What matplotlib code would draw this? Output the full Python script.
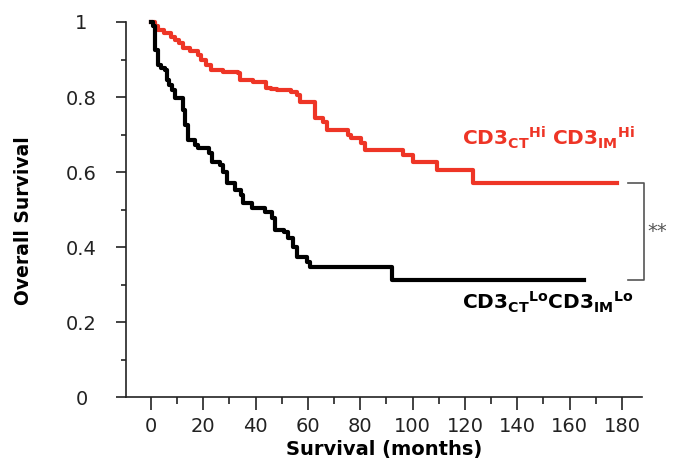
import matplotlib
matplotlib.use("Agg")
import matplotlib.pyplot as plt
from matplotlib.ticker import MultipleLocator

# date (luni, supravietuire)
hi_time = [0, 1.5, 2.7, 5.0, 7.6, 9.2, 10.8, 12.2, 15.0, 17.9, 19.1, 21.0, 22.9, 27.5,
           33.2, 34.0, 38.9, 43.9, 46.0, 48.1, 53.5, 55.8, 56.9, 62.7, 65.7, 67.2,
           75.3, 76.4, 80.2, 81.8, 96.3, 100.1, 109.3, 123.0, 178.0]
hi_surv = [1.0, 0.99, 0.978, 0.97, 0.961, 0.951, 0.943, 0.930, 0.922, 0.912, 0.898,
           0.885, 0.872, 0.868, 0.863, 0.846, 0.841, 0.823, 0.821, 0.819, 0.814, 0.806,
           0.788, 0.744, 0.734, 0.712, 0.699, 0.691, 0.677, 0.659, 0.646, 0.628, 0.606,
           0.572, 0.572]

lo_time = [0, 0.8, 1.5, 2.7, 4.0, 5.3, 6.1, 7.0, 8.0, 9.2, 12.2, 13.0, 14.1, 16.8,
           17.9, 22.2, 23.3, 26.4, 27.5, 29.0, 32.1, 34.4, 35.2, 38.6, 43.6, 46.2,
           47.4, 50.8, 52.3, 54.2, 55.8, 59.6, 60.8, 92.0, 165.4]
lo_surv = [1.0, 0.99, 0.925, 0.885, 0.878, 0.872, 0.845, 0.832, 0.819, 0.798, 0.766,
           0.726, 0.686, 0.672, 0.664, 0.651, 0.627, 0.619, 0.600, 0.571, 0.552, 0.539,
           0.518, 0.504, 0.495, 0.478, 0.446, 0.440, 0.424, 0.400, 0.374, 0.361, 0.347,
           0.312, 0.312]

hi_label = r'$CD3_{CT}{}^{Hi}\ CD3_{IM}{}^{Hi}$'
lo_label = r'$CD3_{CT}{}^{Lo}CD3_{IM}{}^{Lo}$'

plt.rcParams['mathtext.fontset'] = 'dejavusans'
plt.rcParams['mathtext.default'] = 'bf'

red = '#ee3526'

fig = plt.figure(figsize=(6.78, 4.76), dpi=100)
ax = fig.add_axes([0.1858, 0.1653, 0.7606, 0.7885])

ax.step(hi_time, hi_surv, where='post', color=red, lw=3, clip_on=False, zorder=3)
ax.step(lo_time, lo_surv, where='post', color='black', lw=3, clip_on=False, zorder=4)

ax.set_xlim(-9.5, 187.5)
ax.set_ylim(0, 1)

ax.spines['top'].set_visible(False)
ax.spines['right'].set_visible(False)
for s in ['left', 'bottom']:
    ax.spines[s].set_linewidth(1.2)
    ax.spines[s].set_color('#222222')

ax.xaxis.set_minor_locator(MultipleLocator(10))
ax.yaxis.set_minor_locator(MultipleLocator(0.1))
ax.set_xticks(range(0, 181, 20))
ax.set_yticks([0, 0.2, 0.4, 0.6, 0.8, 1.0])
ax.set_yticklabels(['0', '0.2', '0.4', '0.6', '0.8', '1'])

ax.tick_params(axis='x', which='major', length=9, width=1.2, color='#222222',
               labelsize=14, pad=5, labelcolor='#222222')
ax.tick_params(axis='x', which='minor', length=5, width=1.2, color='#222222')
ax.tick_params(axis='y', which='major', length=7, width=1.2, color='#222222',
               labelsize=14, pad=25, labelcolor='#222222')
ax.tick_params(axis='y', which='minor', length=3.5, width=1.2, color='#222222')
for t in ax.get_yticklabels():
    t.set_horizontalalignment('center')

ax.set_xlabel('Survival (months)', fontsize=14, fontweight='bold', labelpad=3)
ax.set_ylabel('Overall Survival', fontsize=13.5, fontweight='bold')
ax.yaxis.set_label_coords(-0.18, 0.47)

ax.text(118.8, 0.672, hi_label, color=red, fontsize=14.5, va='baseline', ha='left')
ax.text(118.8, 0.233, lo_label, color='black', fontsize=14.5, va='baseline', ha='left')

# paranteza de semnificatie
y_top = hi_surv[-1]
y_bot = lo_surv[-1]
gray = '#555555'
ax.plot([182.3, 188.4, 188.4, 182.3], [y_top, y_top, y_bot, y_bot], color=gray,
        lw=1.2, clip_on=False)
ax.text(189.5, (y_top + y_bot) / 2, '**', color=gray, fontsize=14, va='center',
        ha='left', clip_on=False)

fig.savefig('out.png', dpi=100)
